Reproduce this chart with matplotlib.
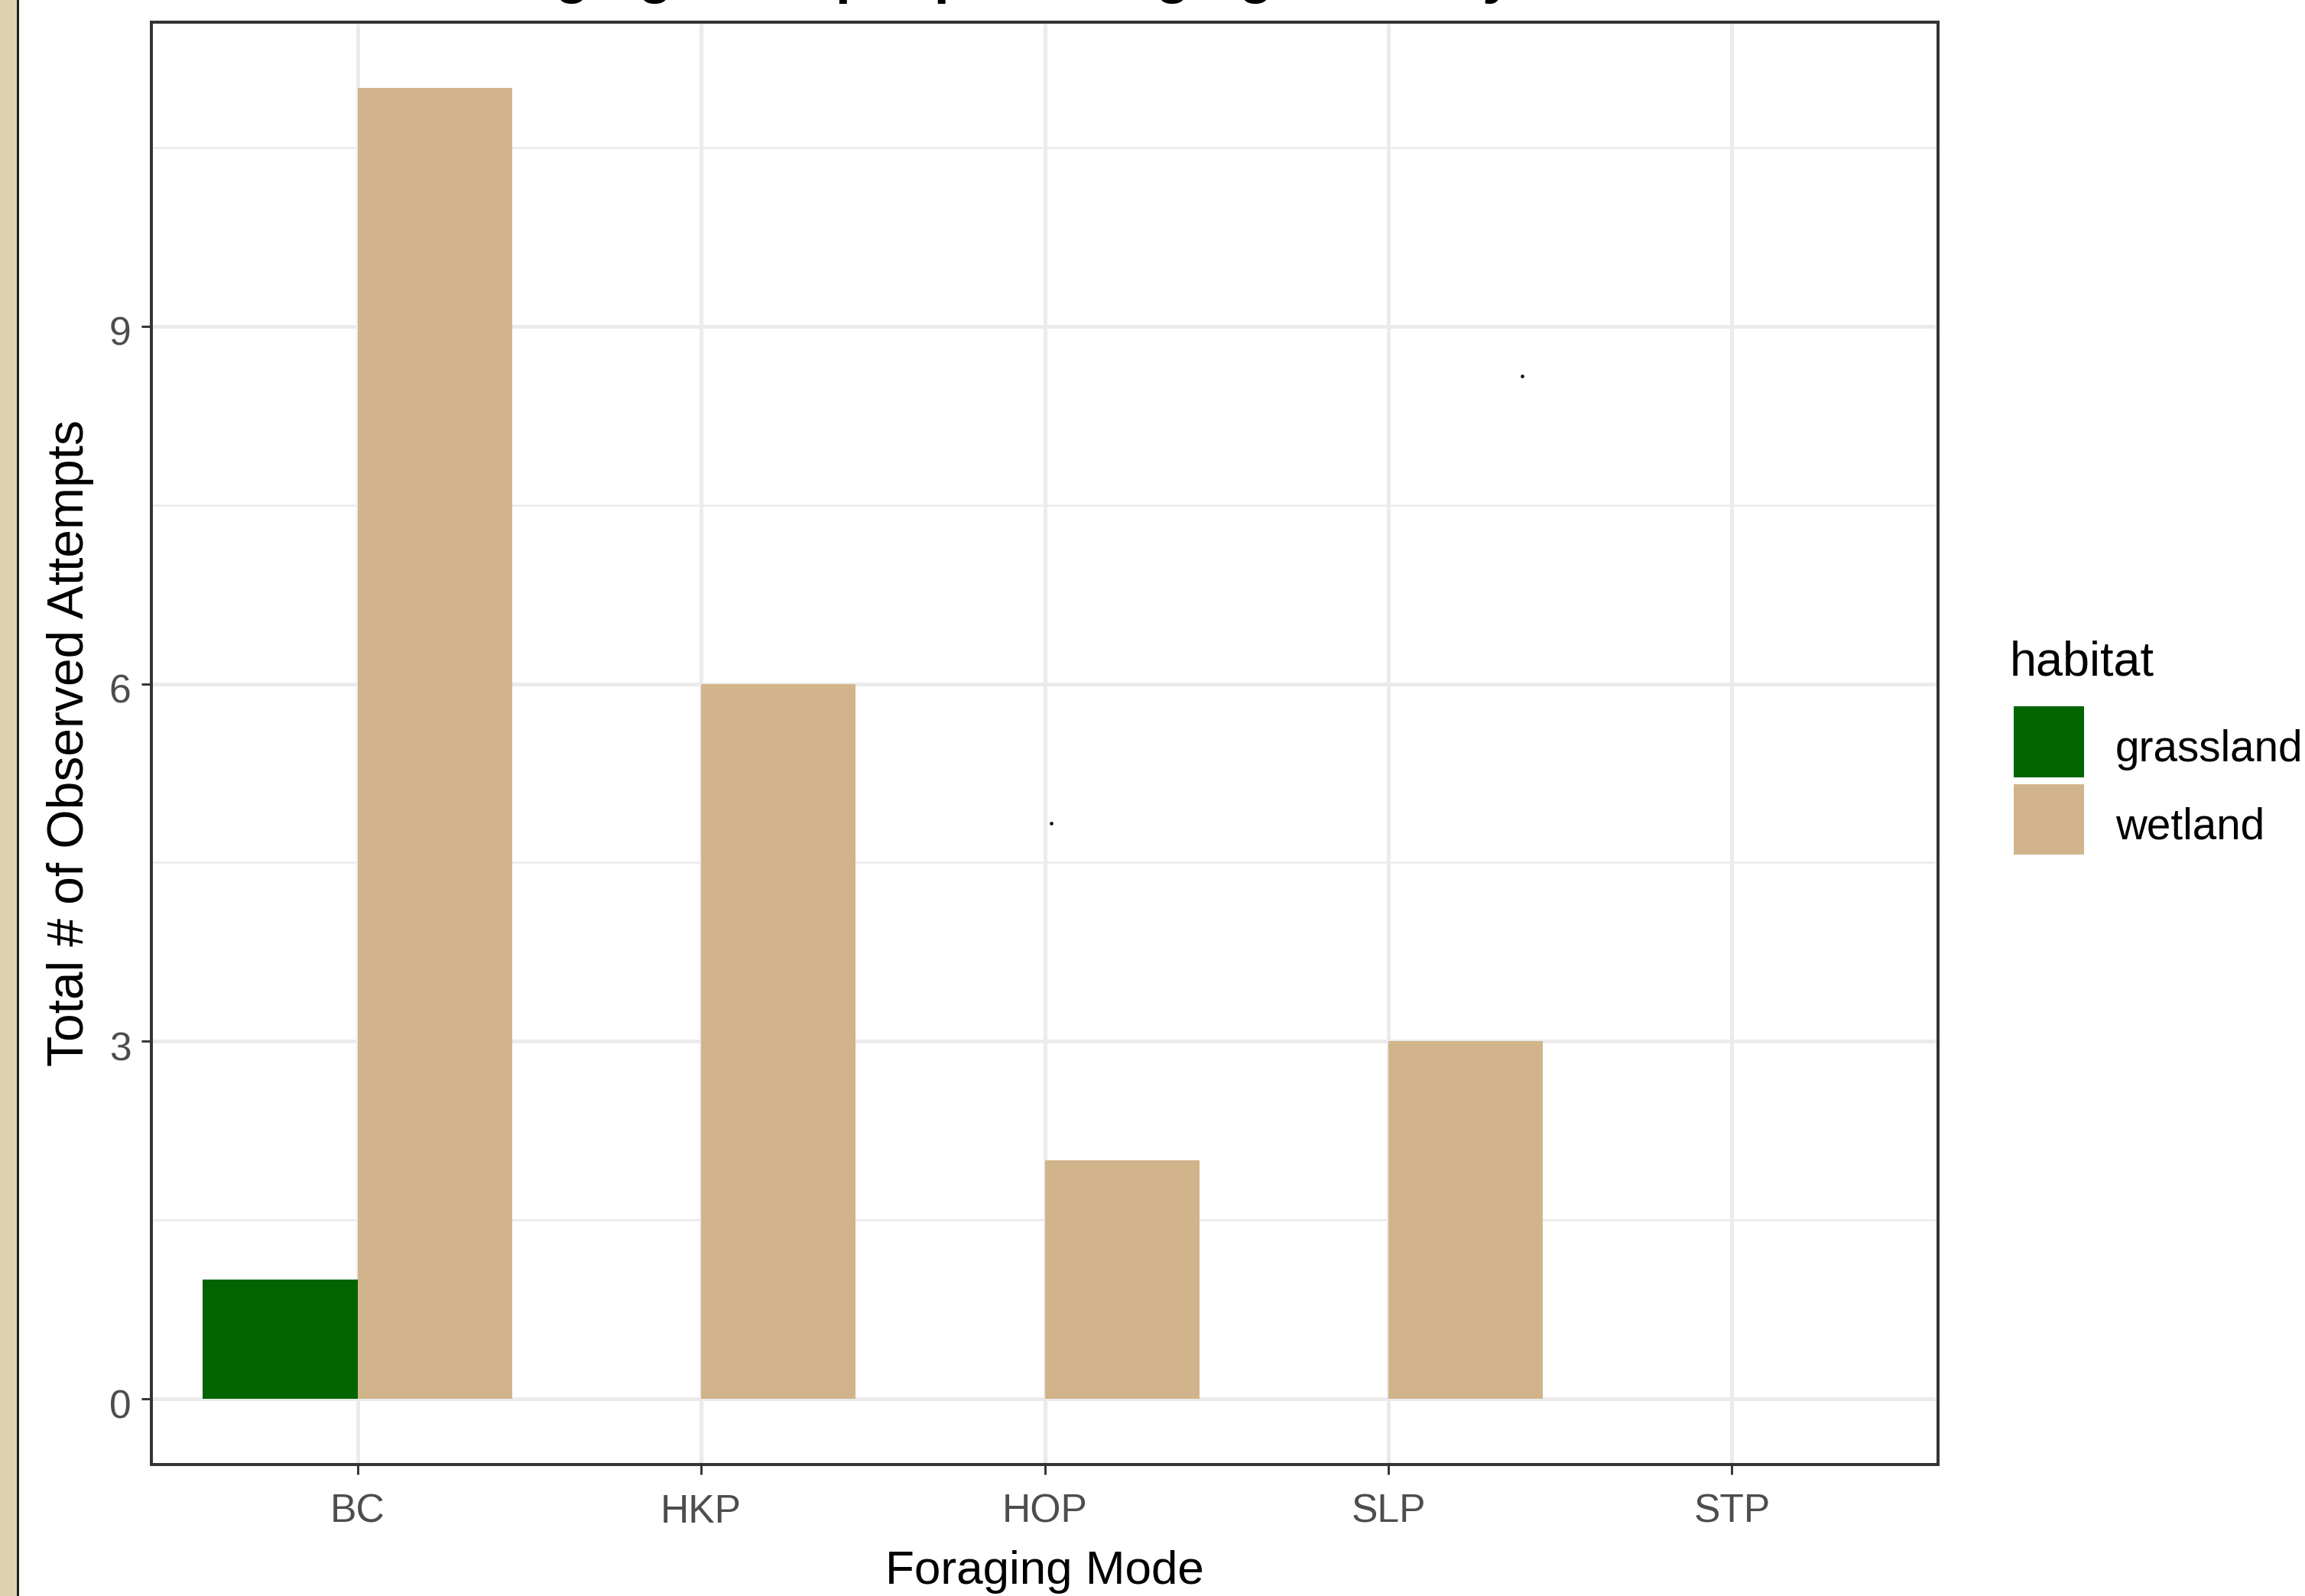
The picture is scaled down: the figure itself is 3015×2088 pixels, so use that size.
import matplotlib
matplotlib.use("Agg")
import matplotlib.pyplot as plt
import matplotlib.transforms as mtransforms
from matplotlib.patches import Rectangle
import numpy as np

# ---- data ----
modes = ["BC", "HKP", "HOP", "SLP", "STP"]
habitats = ["grassland", "wetland"]
grassland = [1, 0, 0, 0, 0]
wetland = [11, 6, 2, 3, 0]
colors = {"grassland": "#006400", "wetland": "#D2B48C"}
yticks = [0, 3, 6, 9]
stray_x = [3.019, 4.39]
stray_y = [4.83, 8.58]
title = "Foraging attempts per Foraging Mode by Habitat"
xlabel = "Foraging Mode"
ylabel = "Total # of Observed Attempts"

W, H, DPI = 3015, 2088, 300
plt.rcParams["font.family"] = ["Liberation Sans", "DejaVu Sans"]
fig = plt.figure(figsize=(W / DPI, H / DPI), dpi=DPI)
fig.patch.set_facecolor("white")

def fx(px):
    return px / W

def fy(py):
    return 1 - py / H

# left tan strip + dark line
fig.patches.append(Rectangle((0, 0), fx(22), 1, transform=fig.transFigure,
                             facecolor="#DFD1AF", edgecolor="none", zorder=0))
fig.patches.append(Rectangle((fx(22), 0), fx(3), 1, transform=fig.transFigure,
                             facecolor="#1E1E1E", edgecolor="none", zorder=0))

# panel
left, right, top, bottom = 198, 2535, 29, 1916
ax = fig.add_axes([fx(left), fy(bottom), fx(right - left), (bottom - top) / H])
ax.set_facecolor("white")
x = np.arange(1, len(modes) + 1)
w = 0.45
ax.bar(x - w / 2, grassland, width=w, color=colors["grassland"], zorder=3)
ax.bar(x + w / 2, wetland, width=w, color=colors["wetland"], zorder=3)
ax.scatter(stray_x, stray_y, s=1.2, color="black", zorder=4, linewidths=0)

ax.set_xlim(0.4, 5.6)
ax.set_ylim(-0.55, 11.55)
ax.set_xticks(x)
ax.set_xticklabels(modes)
ax.set_yticks(yticks)
ax.set_yticks([1.5, 4.5, 7.5, 10.5], minor=True)
ax.grid(which="major", color="#EBEBEB", linewidth=1.2, zorder=0)
ax.grid(which="minor", axis="y", color="#EBEBEB", linewidth=0.6, zorder=0)
ax.set_axisbelow(True)
for s in ax.spines.values():
    s.set_color("#333333")
    s.set_linewidth(0.95)
ax.tick_params(which="major", length=3.1, width=0.7, color="#333333",
               labelsize=12.4, labelcolor="#4D4D4D")
ax.tick_params(axis="y", pad=3.3)
ax.tick_params(axis="x", pad=5.9)
ax.tick_params(which="minor", length=0)

# nudge y tick labels slightly down (ggplot baseline placement)
shift = mtransforms.ScaledTranslation(0, -6 / DPI, fig.dpi_scale_trans)
for lab in ax.get_yticklabels():
    lab.set_transform(lab.get_transform() + shift)

# axis titles
fig.text(fx(1366), fy(2072), xlabel, ha="center", va="baseline", fontsize=14.9, color="black")
fig.text(fx(92), fy(972), ylabel, ha="center", va="center", rotation=90,
         fontsize=15.8, color="black")

# clipped title (only descenders visible, as in the reference)
fig.text(fx(569), fy(-10), title, ha="left", va="baseline", fontsize=17.4,
         fontweight="bold", color="black")

# legend
fig.text(fx(2629), fy(883), "habitat", ha="left", va="baseline", fontsize=15.1, color="black")
keys = [(924, 1017), (1026, 1118)]
for hab, (k0, k1) in zip(habitats, keys):
    fig.patches.append(Rectangle((fx(2634), fy(k1)), fx(92), (k1 - k0) / H,
                                 transform=fig.transFigure, facecolor=colors[hab],
                                 edgecolor="none"))
    fig.text(fx(2767), fy((k0 + k1) / 2 + 10), hab, ha="left", va="center",
             fontsize=13.6, color="black")

fig.savefig("out.png", dpi=DPI)
